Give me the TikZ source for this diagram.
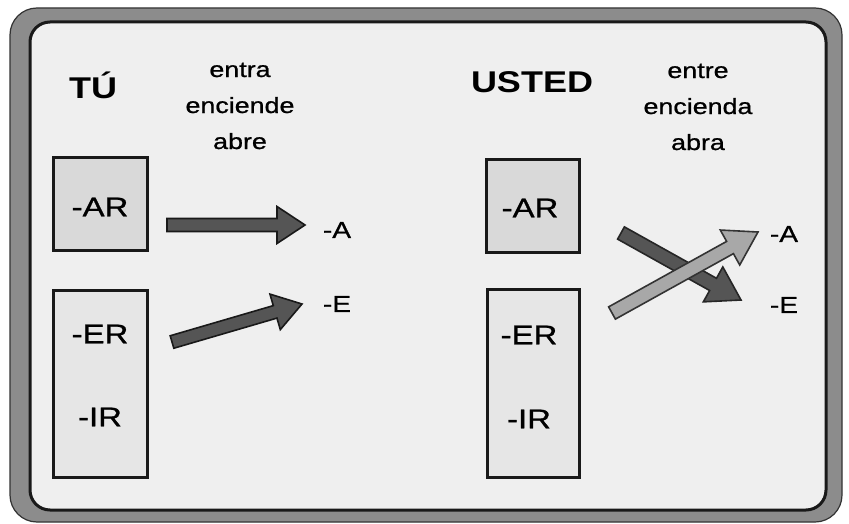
\documentclass[tikz,border=0pt]{standalone}
\usepackage{fontspec}
\setmainfont{Liberation Sans}
\newfontfamily\wfont[FakeStretch=1.22,FakeBold=0.9]{Liberation Sans}
\newfontfamily\tfont[FakeStretch=1.2]{Liberation Sans}
\usetikzlibrary{calc}
\definecolor{bandgray}{HTML}{8C8C8C}
\definecolor{innergray}{HTML}{EFEFEF}
\definecolor{argray}{HTML}{D9D9D9}
\definecolor{ergray}{HTML}{E6E6E6}
\definecolor{darkarrow}{HTML}{555555}
\definecolor{lightarrow}{HTML}{A8A8A8}
% #1 style, #2 tail, #3 tip, #4 shaft half width, #5 head length, #6 head half width
\newcommand\fatarrow[6]{%
  \path ($(#3)!#5!(#2)$) coordinate (fac);
  \filldraw[#1] ($(#2)!#4!90:(#3)$) -- ($(fac)!#4!-90:(#2)$) -- ($(fac)!#6!-90:(#2)$)
    -- (#3) -- ($(fac)!#6!90:(#2)$) -- ($(fac)!#4!90:(#2)$) -- ($(#2)!#4!-90:(#3)$) -- cycle;
}
\tikzset{
  title/.style={font=\tfont\fontsize{30}{36}\selectfont\bfseries, inner sep=0pt},
  verbs/.style={font=\wfont\fontsize{22}{36}\selectfont, align=center, inner sep=0pt},
  ending/.style={font=\wfont\fontsize{27}{32}\selectfont, inner sep=0pt},
  small/.style={font=\wfont\fontsize{23}{26}\selectfont, inner sep=0pt},
  arbox/.style={draw=black!90, line width=3pt, fill=argray, minimum width=94pt, minimum height=92pt, inner sep=0pt},
  erbox/.style={draw=black!90, line width=3pt, fill=ergray, minimum width=94pt, minimum height=187pt, inner sep=0pt},
  leftarrow/.style={fill=darkarrow, draw=black!90, line width=1.6pt, line join=miter},
  downarrow/.style={fill=darkarrow, draw=black!85, line width=1.6pt},
  uparrow/.style={fill=lightarrow, draw=black!80, line width=1.6pt},
}
\begin{document}
\begin{tikzpicture}[x=1pt,y=-1pt]
\useasboundingbox (0,0) rectangle (849,524);
\fill[white] (0,0) rectangle (849,524);
% frame
\filldraw[fill=bandgray, draw=black!80, line width=1.2pt, rounded corners=27pt] (10,8) rectangle (842,522);
\filldraw[fill=innergray, draw=black!90, line width=3pt, rounded corners=20pt] (30,22) rectangle (826,510);
% headings
\node[title] (tu) at (93,85) {TÚ};
\node[verbs] (v1) at (240,106) {entra\\enciende\\abre};
\node[title] (us) at (532,82) {USTED};
\node[verbs] (v2) at (698,107) {entre\\encienda\\abra};
% left boxes
\node[arbox] (arL) at (100,204) {};
\node[ending] (arLt) at (100,207) {-AR};
\node[erbox] (erL) at (100,383.5) {};
\node[ending] (erLt) at (100,334) {-ER};
\node[ending] (irLt) at (100,417) {-IR};
% right boxes
\node[arbox, minimum width=93pt] (arR) at (532.5,206) {};
\node[ending] (arRt) at (530,208) {-AR};
\node[erbox, minimum width=92pt, minimum height=188pt] (erR) at (533,383) {};
\node[ending] (erRt) at (529,335) {-ER};
\node[ending] (irRt) at (529,419) {-IR};
% endings
\node[small] (aL) at (337,230) {-A};
\node[small] (eL) at (337,304) {-E};
\node[small] (aR) at (784,234) {-A};
\node[small] (eR) at (784,305) {-E};
% arrow end coordinates
\coordinate (t1) at (167,225);
\coordinate (p1) at (305,225);
\coordinate (t2) at (172,342);
\coordinate (p2) at (302,304);
\coordinate (t3) at (621,233);
\coordinate (p3) at (741,300);
\coordinate (t4) at (612,313);
\coordinate (p4) at (758,232);
% arrows
\fatarrow{leftarrow}{t1}{p1}{6.5pt}{28pt}{18.5pt}
\fatarrow{leftarrow}{t2}{p2}{6.5pt}{28pt}{18.5pt}
\fatarrow{downarrow}{t3}{p3}{7pt}{32pt}{20pt}
\fatarrow{uparrow}{t4}{p4}{7pt}{32pt}{20pt}
\end{tikzpicture}
\end{document}
